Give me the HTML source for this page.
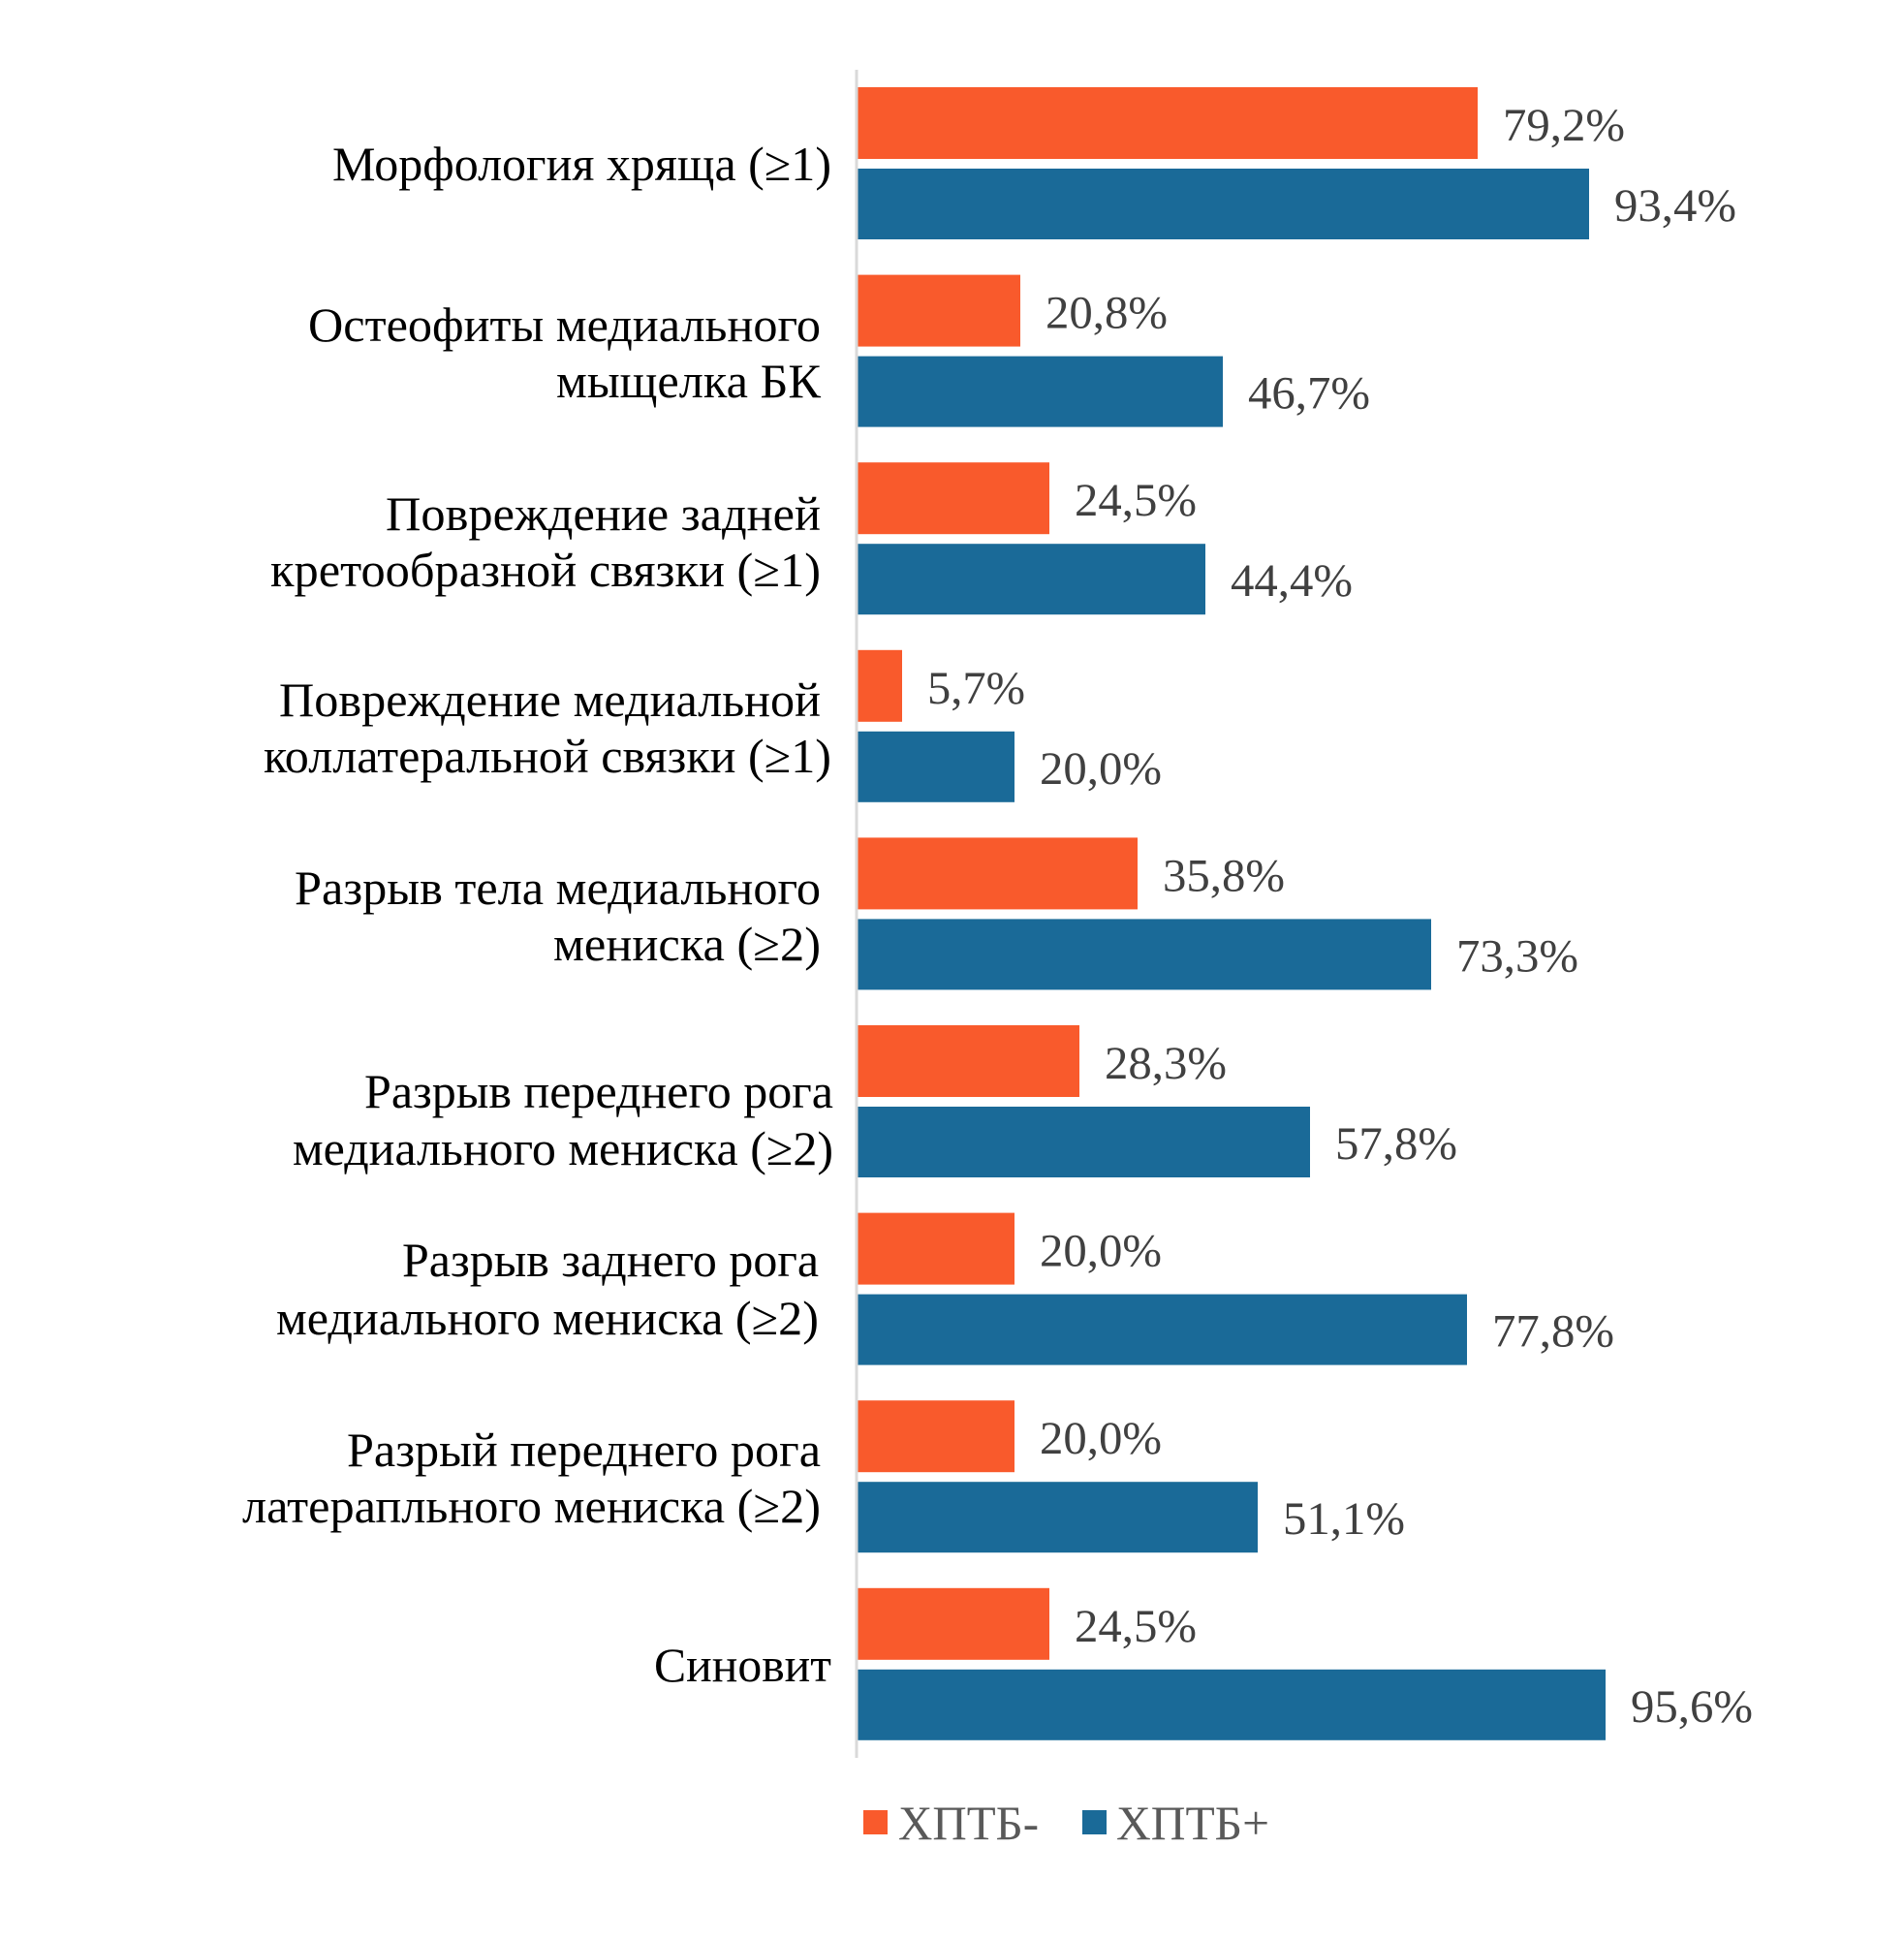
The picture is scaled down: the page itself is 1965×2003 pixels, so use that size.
<!DOCTYPE html>
<html><head><meta charset="utf-8"><style>
html,body{margin:0;padding:0;background:#fff;}
svg{display:block;}
.c{font-family:"Liberation Serif",serif;font-size:50px;fill:#000;}
.v{font-family:"Liberation Serif",serif;font-size:48px;fill:#404040;}
.l{font-family:"Liberation Serif",serif;font-size:50px;fill:#595959;}
</style></head><body>
<svg width="1965" height="2003" viewBox="0 0 1965 2003" xmlns="http://www.w3.org/2000/svg">
<rect width="1965" height="2003" fill="#fff"/>
<g fill="#F95A2C">
<rect x="885" y="90" width="640" height="74"/>
<rect x="885" y="283.6" width="168" height="74"/>
<rect x="885" y="477.2" width="198" height="74"/>
<rect x="885" y="670.8" width="46" height="74"/>
<rect x="885" y="864.4" width="289" height="74"/>
<rect x="885" y="1058" width="229" height="74"/>
<rect x="885" y="1251.6" width="162" height="74"/>
<rect x="885" y="1445.2" width="162" height="74"/>
<rect x="885" y="1638.8" width="198" height="74"/>
</g>
<g fill="#1A6A98">
<rect x="885" y="174" width="755" height="73"/>
<rect x="885" y="367.6" width="377" height="73"/>
<rect x="885" y="561.2" width="359" height="73"/>
<rect x="885" y="754.8" width="162" height="73"/>
<rect x="885" y="948.4" width="592" height="73"/>
<rect x="885" y="1142" width="467" height="73"/>
<rect x="885" y="1335.6" width="629" height="73"/>
<rect x="885" y="1529.2" width="413" height="73"/>
<rect x="885" y="1722.8" width="772" height="73"/>
</g>
<line x1="884" y1="72" x2="884" y2="1814" stroke="#d9d9d9" stroke-width="3"/>
<g class="v">
<text x="1551" y="145" textLength="126" lengthAdjust="spacingAndGlyphs">79,2%</text>
<text x="1666" y="228" textLength="126" lengthAdjust="spacingAndGlyphs">93,4%</text>
<text x="1079" y="338.6" textLength="126" lengthAdjust="spacingAndGlyphs">20,8%</text>
<text x="1288" y="421.6" textLength="126" lengthAdjust="spacingAndGlyphs">46,7%</text>
<text x="1109" y="532.2" textLength="126" lengthAdjust="spacingAndGlyphs">24,5%</text>
<text x="1270" y="615.2" textLength="126" lengthAdjust="spacingAndGlyphs">44,4%</text>
<text x="957" y="725.8" textLength="101" lengthAdjust="spacingAndGlyphs">5,7%</text>
<text x="1073" y="808.8" textLength="126" lengthAdjust="spacingAndGlyphs">20,0%</text>
<text x="1200" y="919.4" textLength="126" lengthAdjust="spacingAndGlyphs">35,8%</text>
<text x="1503" y="1002.4" textLength="126" lengthAdjust="spacingAndGlyphs">73,3%</text>
<text x="1140" y="1113" textLength="126" lengthAdjust="spacingAndGlyphs">28,3%</text>
<text x="1378" y="1196" textLength="126" lengthAdjust="spacingAndGlyphs">57,8%</text>
<text x="1073" y="1306.6" textLength="126" lengthAdjust="spacingAndGlyphs">20,0%</text>
<text x="1540" y="1389.6" textLength="126" lengthAdjust="spacingAndGlyphs">77,8%</text>
<text x="1073" y="1500.2" textLength="126" lengthAdjust="spacingAndGlyphs">20,0%</text>
<text x="1324" y="1583.2" textLength="126" lengthAdjust="spacingAndGlyphs">51,1%</text>
<text x="1109" y="1693.8" textLength="126" lengthAdjust="spacingAndGlyphs">24,5%</text>
<text x="1683" y="1776.8" textLength="126" lengthAdjust="spacingAndGlyphs">95,6%</text>
</g>
<g class="c" text-anchor="end">
<text x="858" y="186" textLength="515" lengthAdjust="spacingAndGlyphs">Морфология хряща (≥1)</text>
<text x="847" y="352" textLength="529" lengthAdjust="spacingAndGlyphs">Остеофиты медиального</text>
<text x="847" y="410" textLength="273" lengthAdjust="spacingAndGlyphs">мыщелка БК</text>
<text x="847" y="547" textLength="449" lengthAdjust="spacingAndGlyphs">Повреждение задней</text>
<text x="847" y="605" textLength="568" lengthAdjust="spacingAndGlyphs">кретообразной связки (≥1)</text>
<text x="847" y="739" textLength="559" lengthAdjust="spacingAndGlyphs">Повреждение медиальной</text>
<text x="858" y="797" textLength="586" lengthAdjust="spacingAndGlyphs">коллатеральной связки (≥1)</text>
<text x="847" y="933" textLength="543" lengthAdjust="spacingAndGlyphs">Разрыв тела медиального</text>
<text x="847" y="991" textLength="276" lengthAdjust="spacingAndGlyphs">мениска (≥2)</text>
<text x="860" y="1143" textLength="484" lengthAdjust="spacingAndGlyphs">Разрыв переднего рога</text>
<text x="860" y="1202" textLength="558" lengthAdjust="spacingAndGlyphs">медиального мениска (≥2)</text>
<text x="845" y="1317" textLength="430" lengthAdjust="spacingAndGlyphs">Разрыв заднего рога</text>
<text x="845" y="1377" textLength="560" lengthAdjust="spacingAndGlyphs">медиального мениска (≥2)</text>
<text x="847" y="1513" textLength="489" lengthAdjust="spacingAndGlyphs">Разрый переднего рога</text>
<text x="847" y="1571" textLength="597" lengthAdjust="spacingAndGlyphs">латерапльного мениска (≥2)</text>
<text x="858" y="1735" textLength="183" lengthAdjust="spacingAndGlyphs">Синовит</text>
</g>
<rect x="891" y="1868" width="25" height="25" fill="#F95A2C"/>
<text class="l" x="927" y="1898" textLength="145" lengthAdjust="spacingAndGlyphs">ХПТБ-</text>
<rect x="1117" y="1868" width="25" height="25" fill="#1A6A98"/>
<text class="l" x="1152" y="1898" textLength="158" lengthAdjust="spacingAndGlyphs">ХПТБ+</text>
</svg>
</body></html>
